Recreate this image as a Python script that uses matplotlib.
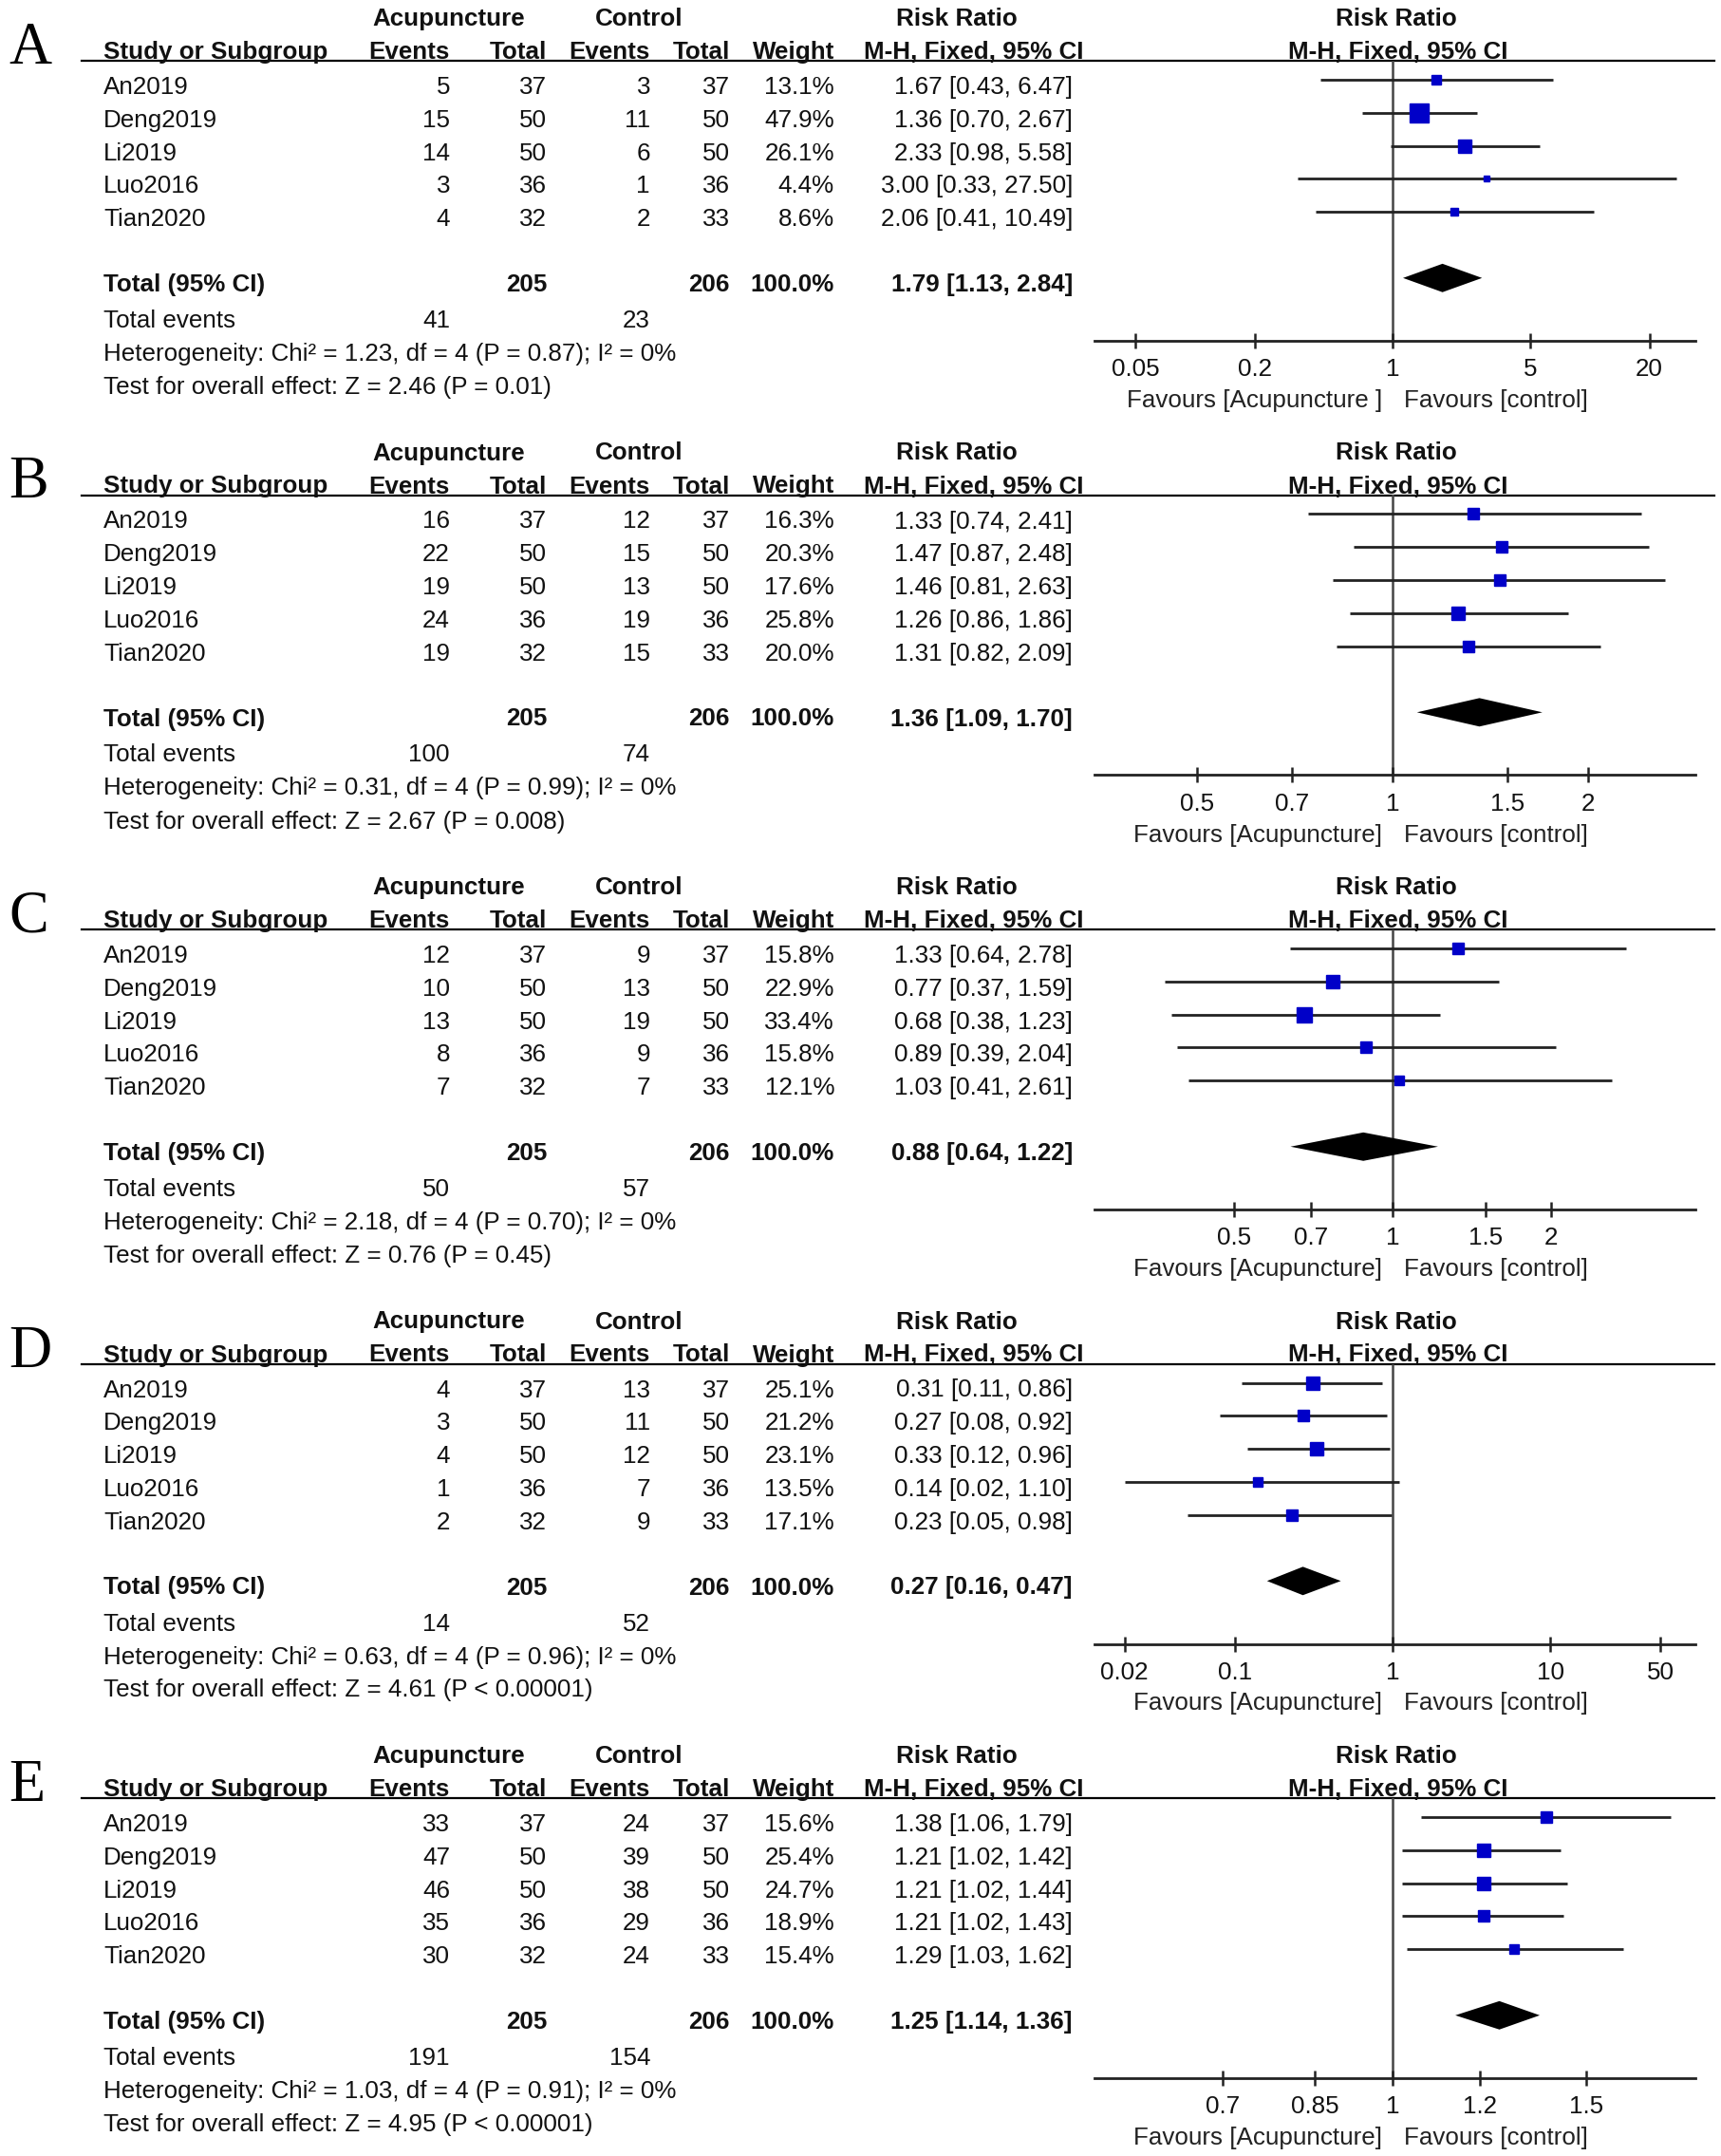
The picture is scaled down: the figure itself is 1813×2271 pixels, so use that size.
import numpy as np
import matplotlib
matplotlib.use('Agg')
import matplotlib.pyplot as plt

plt.rcParams['font.family'] = ['Liberation Sans', 'DejaVu Sans']

# ---- data ----
panels = ['A', 'B', 'C', 'D', 'E']
studies = ['An2019', 'Deng2019', 'Li2019', 'Luo2016', 'Tian2020']

acu_events = [[5, 15, 14, 3, 4], [16, 22, 19, 24, 19], [12, 10, 13, 8, 7],
              [4, 3, 4, 1, 2], [33, 47, 46, 35, 30]]
acu_total = [37, 50, 50, 36, 32]
ctl_events = [[3, 11, 6, 1, 2], [12, 15, 13, 19, 15], [9, 13, 19, 9, 7],
              [13, 11, 12, 7, 9], [24, 39, 38, 29, 24]]
ctl_total = [37, 50, 50, 36, 33]

weights = [[13.1, 47.9, 26.1, 4.4, 8.6], [16.3, 20.3, 17.6, 25.8, 20.0],
           [15.8, 22.9, 33.4, 15.8, 12.1], [25.1, 21.2, 23.1, 13.5, 17.1],
           [15.6, 25.4, 24.7, 18.9, 15.4]]
rr = [[1.67, 1.36, 2.33, 3.00, 2.06], [1.33, 1.47, 1.46, 1.26, 1.31],
      [1.33, 0.77, 0.68, 0.89, 1.03], [0.31, 0.27, 0.33, 0.14, 0.23],
      [1.38, 1.21, 1.21, 1.21, 1.29]]
rr_lo = [[0.43, 0.70, 0.98, 0.33, 0.41], [0.74, 0.87, 0.81, 0.86, 0.82],
         [0.64, 0.37, 0.38, 0.39, 0.41], [0.11, 0.08, 0.12, 0.02, 0.05],
         [1.06, 1.02, 1.02, 1.02, 1.03]]
rr_hi = [[6.47, 2.67, 5.58, 27.50, 10.49], [2.41, 2.48, 2.63, 1.86, 2.09],
         [2.78, 1.59, 1.23, 2.04, 2.61], [0.86, 0.92, 0.96, 1.10, 0.98],
         [1.79, 1.42, 1.44, 1.43, 1.62]]

tot_rr = [1.79, 1.36, 0.88, 0.27, 1.25]
tot_lo = [1.13, 1.09, 0.64, 0.16, 1.14]
tot_hi = [2.84, 1.70, 1.22, 0.47, 1.36]
tot_acu_events = [41, 100, 50, 14, 191]
tot_ctl_events = [23, 74, 57, 52, 154]
chi2 = ['1.23', '0.31', '2.18', '0.63', '1.03']
chi2_p = ['0.87', '0.99', '0.70', '0.96', '0.91']
z_vals = ['2.46', '2.67', '0.76', '4.61', '4.95']
z_p = ['= 0.01', '= 0.008', '= 0.45', '< 0.00001', '< 0.00001']

tick_vals = [[0.05, 0.2, 1, 5, 20], [0.5, 0.7, 1, 1.5, 2], [0.5, 0.7, 1, 1.5, 2],
             [0.02, 0.1, 1, 10, 50], [0.7, 0.85, 1, 1.2, 1.5]]
tick_labels = [['0.05', '0.2', '1', '5', '20'], ['0.5', '0.7', '1', '1.5', '2'],
               ['0.5', '0.7', '1', '1.5', '2'], ['0.02', '0.1', '1', '10', '50'],
               ['0.7', '0.85', '1', '1.2', '1.5']]
# log10 limits of each plot axis
log_lims = [(-1.51, 1.534), (-0.459, 0.466), (-0.566, 0.575), (-1.89, 1.92), (-0.271, 0.275)]
favour_left = ['Favours [Acupuncture ]', 'Favours [Acupuncture]', 'Favours [Acupuncture]',
               'Favours [Acupuncture]', 'Favours [Acupuncture]']
favour_right = 'Favours [control]'

# ---- layout (pixels) ----
W, H = 1813, 2271
PANEL_DY = 457.5
ROW = 34.8
FS = 18.7
TXT = '#111111'
BLUE = '#0000C8'
DY = 3  # small downward nudge for table text

fig = plt.figure(figsize=(W / 100, H / 100), dpi=100)
bg = fig.add_axes([0, 0, 1, 1])
bg.set_xlim(0, W)
bg.set_ylim(H, 0)
bg.axis('off')

col_right = [474, 576, 685, 769, 879]


def put(x, y, s, ha='left', bold=False, **kw):
    bg.text(x, y + DY, s, ha=ha, va='center', fontsize=FS, color=TXT,
            fontweight='bold' if bold else 'normal', **kw)


for p, letter in enumerate(panels):
    off = p * PANEL_DY

    # panel letter
    bg.text(9, 52 + off, letter, fontsize=45, family='Liberation Serif',
            va='center', ha='left', color='black')

    # headers
    put(473, 17 + off, 'Acupuncture', ha='center', bold=True)
    put(673, 17 + off, 'Control', ha='center', bold=True)
    put(1008, 17 + off, 'Risk Ratio', ha='center', bold=True)
    put(1471, 17 + off, 'Risk Ratio', ha='center', bold=True)
    put(109, 52 + off, 'Study or Subgroup', bold=True)
    for x, s in zip(col_right, ['Events', 'Total', 'Events', 'Total', 'Weight']):
        put(x, 52 + off, s, ha='right', bold=True)
    put(1141, 52 + off, 'M-H, Fixed, 95% CI', ha='right', bold=True)
    put(1473, 52 + off, 'M-H, Fixed, 95% CI', ha='center', bold=True)
    bg.plot([86, 1806], [64 + off, 64 + off], color='black', lw=1.6)

    # study rows
    for i, name in enumerate(studies):
        y = 89 + i * ROW + off
        put(109, y, name)
        cells = [str(acu_events[p][i]), str(acu_total[i]), str(ctl_events[p][i]),
                 str(ctl_total[i]), f'{weights[p][i]:.1f}%']
        for x, s in zip(col_right, cells):
            put(x, y, s, ha='right')
        put(1130, y, f'{rr[p][i]:.2f} [{rr_lo[p][i]:.2f}, {rr_hi[p][i]:.2f}]', ha='right')

    # totals
    y = 297 + off
    put(109, y, 'Total (95% CI)', bold=True)
    put(col_right[1], y, str(sum(acu_total)), ha='right', bold=True)
    put(col_right[3], y, str(sum(ctl_total)), ha='right', bold=True)
    put(col_right[4], y, '100.0%', ha='right', bold=True)
    put(1130, y, f'{tot_rr[p]:.2f} [{tot_lo[p]:.2f}, {tot_hi[p]:.2f}]', ha='right', bold=True)
    put(109, 335 + off, 'Total events')
    put(col_right[0], 335 + off, str(tot_acu_events[p]), ha='right')
    put(col_right[2], 335 + off, str(tot_ctl_events[p]), ha='right')
    put(109, 370 + off, f'Heterogeneity: Chi\u00b2 = {chi2[p]}, df = 4 (P = {chi2_p[p]}); I\u00b2 = 0%')
    put(109, 405 + off, f'Test for overall effect: Z = {z_vals[p]} (P {z_p[p]})')

    # ---- forest plot ----
    top_px, bot_px = 64 + off, 359 + off
    ax = fig.add_axes([1153 / W, 1 - bot_px / H, 633 / W, (bot_px - top_px) / H])
    ax.set_xscale('log')
    ax.set_xlim(10 ** log_lims[p][0], 10 ** log_lims[p][1])
    # y in row units: first study at 0, total at 6
    ax.set_ylim((359 - 84) / ROW, (64 - 84) / ROW)
    ax.patch.set_alpha(0)
    for s in ['top', 'left', 'right']:
        ax.spines[s].set_visible(False)
    ax.spines['bottom'].set_linewidth(2.0)
    ax.spines['bottom'].set_color('#222222')
    ax.set_yticks([])
    ax.set_xticks(tick_vals[p])
    ax.set_xticklabels(tick_labels[p])
    ax.xaxis.set_minor_locator(matplotlib.ticker.NullLocator())
    ax.tick_params(axis='x', direction='inout', length=11.5, width=1.8,
                   color='#222222', labelsize=FS, labelcolor=TXT, pad=7.5)

    ax.axvline(1, color='#444444', lw=1.8, zorder=1)
    rows = np.arange(len(studies))
    ax.hlines(rows, rr_lo[p], rr_hi[p], color='#222222', lw=2.0, zorder=2)
    for i in rows:
        side_pt = max(2.8 * np.sqrt(weights[p][i]), 6) * 0.72
        ax.plot(rr[p][i], i, marker='s', ms=side_pt, color=BLUE, ls='none', zorder=3)
    yt = 6
    ax.fill([tot_lo[p], tot_rr[p], tot_hi[p], tot_rr[p]],
            [yt, yt - 0.43, yt, yt + 0.43], color='black', lw=0, zorder=3)

    # favours labels
    bg.text(1456, 422 + off, favour_left[p], ha='right', va='center', fontsize=FS, color='#222222')
    bg.text(1479, 422 + off, favour_right, ha='left', va='center', fontsize=FS, color='#222222')

fig.savefig('out.png', dpi=100)
